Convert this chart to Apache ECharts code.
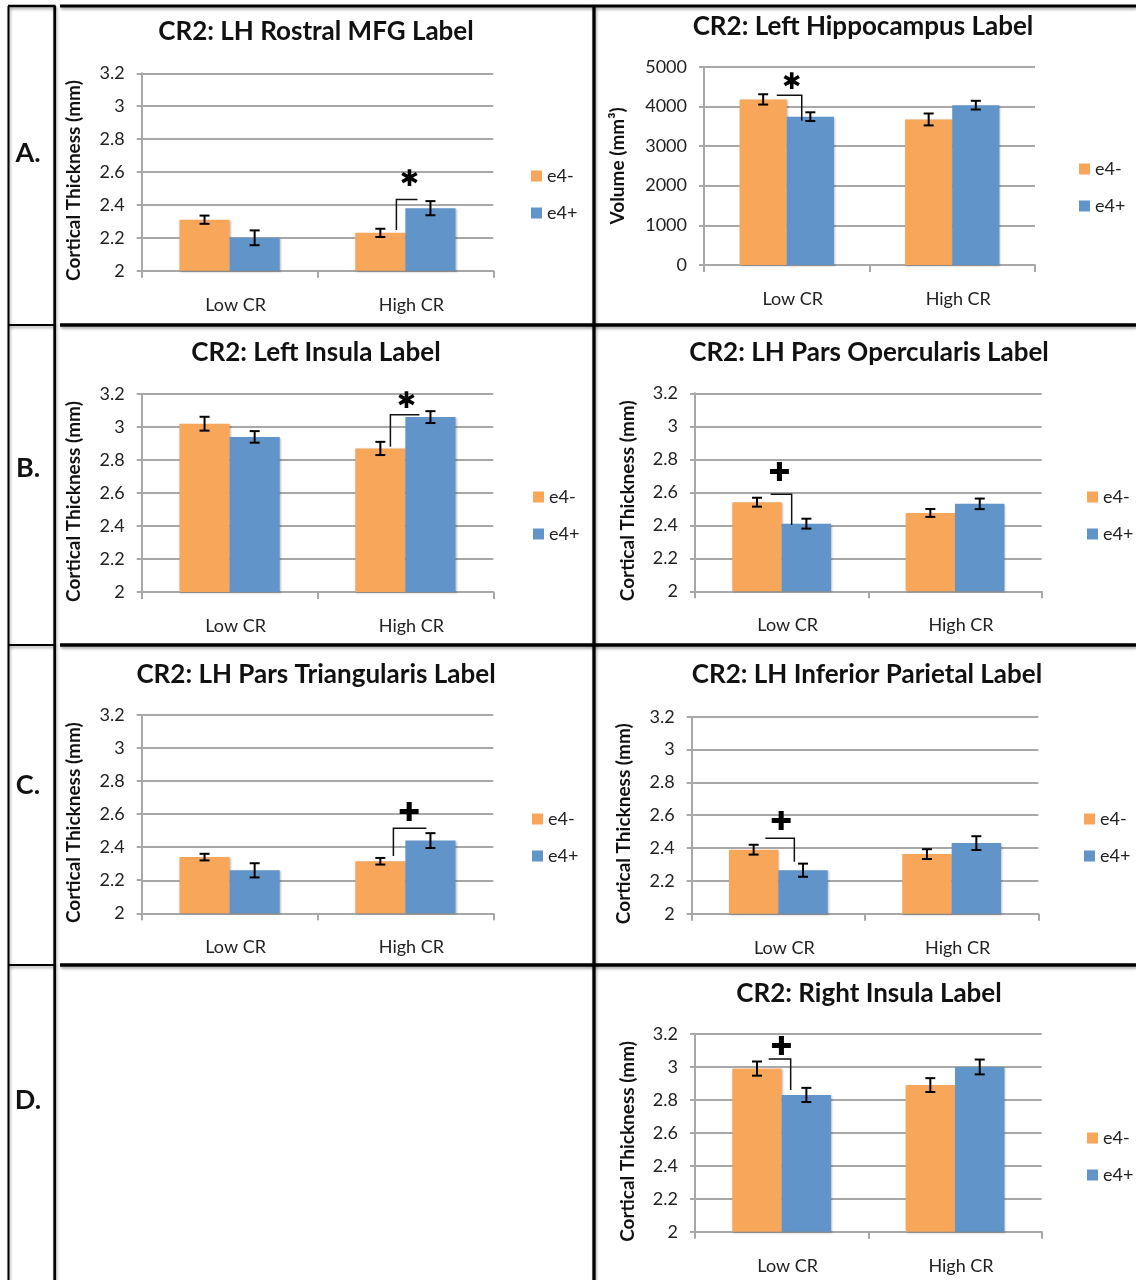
<!DOCTYPE html>
<html><head><meta charset="utf-8">
<script src="https://cdn.jsdelivr.net/npm/echarts@6/dist/echarts.min.js"></script>
<style>html,body{margin:0;padding:0;background:#fff}#c{width:1136px;height:1280px}</style>
</head><body><div id="c"></div>
<script>
// ---------- DATA ----------
const categories = ['Low CR', 'High CR'];
const groups = ['e4-', 'e4+'];
const thicknessTicks = [2, 2.2, 2.4, 2.6, 2.8, 3, 3.2];
const volumeTicks = [0, 1000, 2000, 3000, 4000, 5000];
const rowLabels = ['A.', 'B.', 'C.', 'D.'];

const titles = [
  'CR2: LH Rostral MFG Label',
  'CR2: Left Hippocampus Label',
  'CR2: Left Insula Label',
  'CR2: LH Pars Opercularis Label',
  'CR2: LH Pars Triangularis Label',
  'CR2: LH Inferior Parietal Label',
  'CR2: Right Insula Label'
];
const yNames = ['Cortical Thickness (mm)', 'Volume (mm³)', 'Cortical Thickness (mm)',
  'Cortical Thickness (mm)', 'Cortical Thickness (mm)', 'Cortical Thickness (mm)', 'Cortical Thickness (mm)'];

// A left: LH Rostral MFG
const mfgNeg = [2.31, 2.23], mfgNegErr = [0.025, 0.025];
const mfgPos = [2.20, 2.38], mfgPosErr = [0.045, 0.043];
// A right: Left Hippocampus (volume)
const hipNeg = [4175, 3670], hipNegErr = [130, 150];
const hipPos = [3740, 4030], hipPosErr = [110, 110];
// B left: Left Insula
const linsNeg = [3.02, 2.87], linsNegErr = [0.042, 0.04];
const linsPos = [2.94, 3.06], linsPosErr = [0.035, 0.036];
// B right: LH Pars Opercularis
const operNeg = [2.54, 2.475], operNegErr = [0.027, 0.024];
const operPos = [2.41, 2.53], operPosErr = [0.03, 0.032];
// C left: LH Pars Triangularis
const triNeg = [2.34, 2.315], triNegErr = [0.02, 0.02];
const triPos = [2.26, 2.44], triPosErr = [0.043, 0.045];
// C right: LH Inferior Parietal
const ipNeg = [2.39, 2.363], ipNegErr = [0.03, 0.03];
const ipPos = [2.265, 2.43], ipPosErr = [0.04, 0.042];
// D right: Right Insula
const rinsNeg = [2.99, 2.89], rinsNegErr = [0.043, 0.042];
const rinsPos = [2.83, 3.00], rinsPosErr = [0.043, 0.045];

// significance annotations (per panel)
const sigSymbols = ['✱', '✱', '✱', '✚', '✚', '✚', '✚'];
const sigCategory = [1, 0, 1, 0, 1, 0, 0];
const sigLegEnd = [2.247, 3635, 2.88, 2.402, 2.347, 2.317, 2.86];
const sigBarLevel = [2.433, 4282, 3.075, 2.588, 2.514, 2.459, 3.048];
const sigSymbolLevel = [2.55, 4584, 3.153, 2.711, 2.599, 2.554, 3.113];

const panelNeg = [mfgNeg, hipNeg, linsNeg, operNeg, triNeg, ipNeg, rinsNeg];
const panelNegErr = [mfgNegErr, hipNegErr, linsNegErr, operNegErr, triNegErr, ipNegErr, rinsNegErr];
const panelPos = [mfgPos, hipPos, linsPos, operPos, triPos, ipPos, rinsPos];
const panelPosErr = [mfgPosErr, hipPosErr, linsPosErr, operPosErr, triPosErr, ipPosErr, rinsPosErr];
const panelTicks = [thicknessTicks, volumeTicks, thicknessTicks, thicknessTicks, thicknessTicks, thicknessTicks, thicknessTicks];

// ---------- LAYOUT / STYLE ----------
const FONT = 'Lato';
const ORANGE = '#F8A75A', BLUE = '#6195C9', GRIDC = '#A8A8A8';
const layout = [
  {grid: [141.7, 73.3, 351.6, 197.4], title: [316, 32], legend: [531, 176], nameGap: 58, nameShift: 17, br: {a: -9, b: 12, leg: 'a', s: 4}},
  {grid: [704, 66.7, 331, 198.3], title: [863, 27], legend: [1079, 169], nameGap: 77, nameShift: 0, br: {a: -10, b: 15, leg: 'b', s: 5}},
  {grid: [141.7, 394, 351.6, 198], title: [316, 353], legend: [533, 497], nameGap: 58, nameShift: 17, br: {a: -15, b: 14, leg: 'a', s: 1}},
  {grid: [695, 393.3, 346.7, 198], title: [869, 353], legend: [1087, 497], nameGap: 58, nameShift: 17, br: {a: -11, b: 10, leg: 'b', s: -2}},
  {grid: [141.7, 715, 351.6, 198.3], title: [316, 675], legend: [532, 819], nameGap: 58, nameShift: 17, br: {a: -12, b: 21, leg: 'a', s: 4}},
  {grid: [691.7, 716.7, 346.6, 197], title: [867, 675], legend: [1084, 819], nameGap: 58, nameShift: 17, br: {a: -13, b: 16, leg: 'b', s: 3}},
  {grid: [695, 1034, 346.7, 197.7], title: [869, 994], legend: [1087, 1138], nameGap: 58, nameShift: 17, br: {a: -13, b: 9, leg: 'b', s: 0}}
];

function errRender(offsetFrac) {
  return function (params, api) {
    const cat = api.value(0);
    const lo = api.coord([cat, api.value(1)]);
    const hi = api.coord([cat, api.value(2)]);
    const cw = api.size([1, 0])[0];
    const x = lo[0] + offsetFrac * cw;
    const hw = 5;
    const st = {stroke: '#000', lineWidth: 2};
    return {type: 'group', children: [
      {type: 'line', shape: {x1: x, y1: lo[1], x2: x, y2: hi[1]}, style: st},
      {type: 'line', shape: {x1: x - hw, y1: lo[1], x2: x + hw, y2: lo[1]}, style: st},
      {type: 'line', shape: {x1: x - hw, y1: hi[1], x2: x + hw, y2: hi[1]}, style: st}
    ]};
  };
}
function sigRender(br, symbol) {
  return function (params, api) {
    const cat = api.value(0);
    const pLow = api.coord([cat, api.value(1)]);
    const pHigh = api.coord([cat, api.value(2)]);
    const pSym = api.coord([cat, api.value(3)]);
    const cx = pLow[0];
    const xa = cx + br.a, xb = cx + br.b;
    const st = {stroke: '#111', lineWidth: 1.5, fill: null};
    const plus = symbol === '✚';
    const pts = br.leg === 'a'
      ? [[xa, pLow[1]], [xa, pHigh[1]], [xb, pHigh[1]]]
      : [[xa, pHigh[1]], [xb, pHigh[1]], [xb, pLow[1]]];
    return {type: 'group', children: [
      {type: 'polyline', shape: {points: pts}, style: st},
      {type: 'text', style: {text: symbol, x: cx + br.s, y: pSym[1], align: 'center', verticalAlign: 'middle',
        fontFamily: 'DejaVu Sans', fontWeight: 'bold', fontSize: plus ? 26 : 23, fill: '#000'}}
    ]};
  };
}

const grids = [], xAxes = [], yAxes = [], titleArr = [], legends = [], series = [];
layout.forEach((L, i) => {
  const [gl, gt, gw, gh] = L.grid;
  grids.push({left: gl, top: gt, width: gw, height: gh, containLabel: false, outerBoundsMode: 'none'});
  const ticks = panelTicks[i];
  xAxes.push({type: 'category', gridIndex: i, data: categories,
    axisLine: {show: true, onZero: false, lineStyle: {color: GRIDC, width: 2}},
    axisTick: {show: true, length: 7, lineStyle: {color: GRIDC, width: 2}},
    axisLabel: {fontFamily: FONT, fontSize: 18, color: '#222', margin: 25, padding: [0, 0, 0, 12]}});
  yAxes.push({type: 'value', gridIndex: i, min: ticks[0], max: ticks[ticks.length - 1],
    interval: ticks[1] - ticks[0],
    name: yNames[i], nameLocation: 'middle', nameGap: L.nameGap,
    nameTextStyle: {fontFamily: FONT, fontWeight: 'bold', fontSize: 19, color: '#111',
      padding: [0, L.nameShift, 0, 0]},
    axisLine: {show: true, lineStyle: {color: GRIDC, width: 2}},
    axisTick: {show: true, length: 5, lineStyle: {color: GRIDC, width: 2}},
    splitLine: {show: true, lineStyle: {color: GRIDC, width: 2}},
    axisLabel: {fontFamily: FONT, fontSize: 18, color: '#222', margin: 17,
      formatter: v => String(Math.round(v * 100) / 100)}});
  titleArr.push({text: titles[i], left: L.title[0], top: L.title[1] - 15, textAlign: 'center', padding: 0,
    textStyle: {fontFamily: FONT, fontWeight: 'bold', fontSize: 26, color: '#111', lineHeight: 30}});
  legends.push({left: L.legend[0], top: L.legend[1] - 9, orient: 'vertical', itemWidth: 11, itemHeight: 11,
    itemGap: 19, padding: 0, icon: 'rect', data: groups, selectedMode: false,
    textStyle: {fontFamily: FONT, fontSize: 18, color: '#222', lineHeight: 18}});
  const barStyle = c => ({color: c, shadowColor: 'rgba(0,0,0,0.25)', shadowBlur: 2, shadowOffsetX: 1, shadowOffsetY: 1});
  series.push({type: 'bar', name: groups[0], xAxisIndex: i, yAxisIndex: i, data: panelNeg[i],
    barGap: '0%', barCategoryGap: '43%', itemStyle: barStyle(ORANGE), silent: true});
  series.push({type: 'bar', name: groups[1], xAxisIndex: i, yAxisIndex: i, data: panelPos[i],
    barGap: '0%', barCategoryGap: '43%', itemStyle: barStyle(BLUE), silent: true});
  series.push({type: 'custom', xAxisIndex: i, yAxisIndex: i, z: 5, silent: true,
    renderItem: errRender(-0.1425),
    data: panelNeg[i].map((v, k) => [k, v - panelNegErr[i][k], v + panelNegErr[i][k]])});
  series.push({type: 'custom', xAxisIndex: i, yAxisIndex: i, z: 5, silent: true,
    renderItem: errRender(0.1425),
    data: panelPos[i].map((v, k) => [k, v - panelPosErr[i][k], v + panelPosErr[i][k]])});
  series.push({type: 'custom', xAxisIndex: i, yAxisIndex: i, z: 6, silent: true,
    renderItem: sigRender(L.br, sigSymbols[i]),
    data: [[sigCategory[i], sigLegEnd[i], sigBarLevel[i], sigSymbolLevel[i]]]});
});

// ---------- BORDERS & ROW LABELS ----------
const shadow = {shadowColor: 'rgba(0,0,0,0.35)', shadowBlur: 3, shadowOffsetY: 2, shadowOffsetX: 1};
function ln(x1, y1, x2, y2, w) {
  return {type: 'line', silent: true, shape: {x1, y1, x2, y2}, style: Object.assign({stroke: '#000', lineWidth: w}, shadow)};
}
const graphics = [
  ln(8.5, 6, 8.5, 1280, 2), ln(54.7, 6, 54.7, 1280, 2.7), ln(8, 6, 55.5, 6, 2.5),
  ln(8.5, 325, 54.7, 325, 2), ln(8.5, 645, 54.7, 645, 2), ln(8.5, 965, 54.7, 965, 2),
  ln(60, 6, 1136, 6, 3), ln(60, 325, 1136, 325, 3.3), ln(60, 645, 1136, 645, 3.3), ln(60, 965, 1136, 965, 3.3),
  ln(594, 6, 594, 1280, 3.3)
];
const rowY = [153, 468, 785, 1100];
rowLabels.forEach((t, k) => graphics.push({type: 'text', silent: true,
  style: {text: t, x: 28, y: rowY[k], align: 'center', verticalAlign: 'middle',
    fontFamily: FONT, fontWeight: 'bold', fontSize: 27, fill: '#111'}}));

const chart = echarts.init(document.getElementById('c'), null, {renderer: 'canvas', width: 1136, height: 1280});
chart.setOption({
  animation: false,
  backgroundColor: '#fff',
  title: titleArr,
  legend: legends,
  grid: grids,
  xAxis: xAxes,
  yAxis: yAxes,
  series: series,
  graphic: graphics
});
</script></body></html>
